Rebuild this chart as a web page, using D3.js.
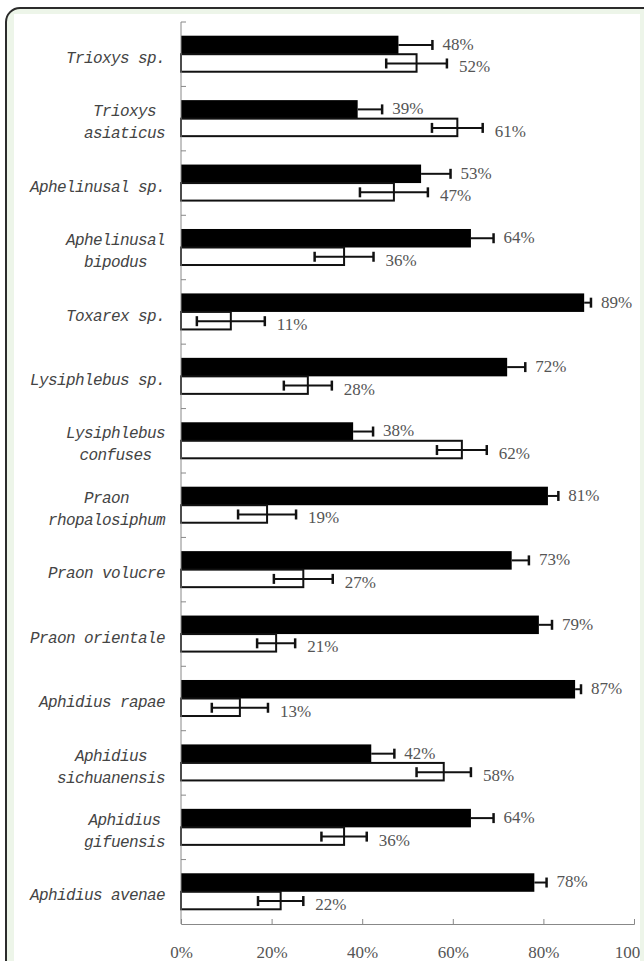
<!DOCTYPE html>
<html>
<head>
<meta charset="utf-8">
<script src="https://cdn.jsdelivr.net/npm/d3@7"></script>
<style>
  html, body { margin: 0; padding: 0; background: #fff; }
  svg { display: block; }
</style>
</head>
<body>
<div id="chart"></div>
<script>
// species, top to bottom (line breaks as in the figure)
const species = [
  ["Trioxys sp."],
  ["Trioxys", "asiaticus"],
  ["Aphelinusal sp."],
  ["Aphelinusal", "bipodus"],
  ["Toxarex sp."],
  ["Lysiphlebus sp."],
  ["Lysiphlebus", "confuses"],
  ["Praon", "rhopalosiphum"],
  ["Praon volucre"],
  ["Praon orientale"],
  ["Aphidius rapae"],
  ["Aphidius", "sichuanensis"],
  ["Aphidius", "gifuensis"],
  ["Aphidius avenae"]
]
const blackVals = [48, 39, 53, 64, 89, 72, 38, 81, 73, 79, 87, 42, 64, 78]
const blackErr  = [7.5, 5.4, 6.5, 5, 1.5, 4, 4.4, 2.3, 3.8, 2.9, 1.3, 5.1, 5, 2.7]
const whiteVals = [52, 61, 47, 36, 11, 28, 62, 19, 27, 21, 13, 58, 36, 22]
const whiteErr  = [6.7, 5.6, 7.5, 6.5, 7.5, 5.3, 5.5, 6.4, 6.5, 4.2, 6.2, 6, 5, 5]
const xTicks = [0, 20, 40, 60, 80, 100]

const W = 644, H = 961

const svg = d3.select("#chart").append("svg")
  .attr("width", W)
  .attr("height", H)

// frame: dark rounded border, pale green margin, white panel
svg.append("rect")
  .attr("x", 6).attr("y", 8)
  .attr("width", 720).attr("height", 1040)
  .attr("rx", 14)
  .attr("fill", "#edf5e9")
  .attr("stroke", "#2b2b2b")
  .attr("stroke-width", 2)
svg.append("rect")
  .attr("x", 14).attr("y", 14)
  .attr("width", 626).attr("height", 1000)
  .attr("fill", "#fff")

// the white panel crops the last tick label, as in the figure
svg.append("clipPath").attr("id", "panel")
  .append("rect").attr("x", 14).attr("y", 14).attr("width", 626).attr("height", 1000)

const g = svg.append("g").attr("clip-path", "url(#panel)")

const rows = species.map((s, i) => ({
  id: i, lines: s,
  b: blackVals[i], be: blackErr[i],
  w: whiteVals[i], we: whiteErr[i]
}))

const x = d3.scaleLinear().domain([0, 100]).range([181, 634])
const y = d3.scaleBand().domain(rows.map(d => d.id)).range([22, 924])
const ySub = d3.scaleBand().domain(["b", "w"]).range([0, y.bandwidth()]).paddingOuter(0.74)

const row = g.selectAll("g.row")
  .data(rows)
  .enter().append("g")
  .attr("class", "row")
  .attr("transform", d => "translate(0," + y(d.id) + ")")

// black bars
row.append("rect")
  .attr("x", x(0))
  .attr("y", ySub("b"))
  .attr("width", d => x(d.b) - x(0))
  .attr("height", ySub.bandwidth())
  .attr("fill", "#000")

// white bars
row.append("rect")
  .attr("x", x(0))
  .attr("y", ySub("w"))
  .attr("width", d => x(d.w) - x(0))
  .attr("height", ySub.bandwidth() - 1)
  .attr("fill", "#fff")
  .attr("stroke", "#111")
  .attr("stroke-width", 2)

const capH = 5
const bMid = ySub("b") + ySub.bandwidth() / 2
const wMid = ySub("w") + ySub.bandwidth() / 2

// error bars on black bars (right side only)
row.append("line")
  .attr("x1", d => x(d.b)).attr("x2", d => x(d.b + d.be))
  .attr("y1", bMid).attr("y2", bMid)
  .attr("stroke", "#111").attr("stroke-width", 2)
row.append("line")
  .attr("x1", d => x(d.b + d.be)).attr("x2", d => x(d.b + d.be))
  .attr("y1", bMid - capH).attr("y2", bMid + capH)
  .attr("stroke", "#111").attr("stroke-width", 2.5)

// error bars on white bars (both sides)
row.append("line")
  .attr("x1", d => x(d.w - d.we)).attr("x2", d => x(d.w + d.we))
  .attr("y1", wMid).attr("y2", wMid)
  .attr("stroke", "#111").attr("stroke-width", 2)
row.selectAll("line.cap")
  .data(d => [d.w - d.we, d.w + d.we])
  .enter().append("line")
  .attr("class", "cap")
  .attr("x1", v => x(v)).attr("x2", v => x(v))
  .attr("y1", wMid - capH).attr("y2", wMid + capH)
  .attr("stroke", "#111").attr("stroke-width", 2.5)

// value labels
row.append("text")
  .attr("x", d => x(d.b + d.be) + 10)
  .attr("y", bMid - 1)
  .attr("dy", "0.35em")
  .attr("font-family", "'Liberation Serif', serif")
  .attr("font-size", 17)
  .attr("fill", "#555")
  .text(d => d.b + "%")
row.append("text")
  .attr("x", d => x(d.w + d.we) + 12)
  .attr("y", wMid + 3)
  .attr("dy", "0.35em")
  .attr("font-family", "'Liberation Serif', serif")
  .attr("font-size", 17)
  .attr("fill", "#555")
  .text(d => d.w + "%")

// species labels: block right-aligned at 165, lines centred inside it
const lineH = 22
row.each(function(d) {
  const t = d3.select(this).append("text")
    .attr("font-family", "'Liberation Mono', monospace")
    .attr("font-style", "italic")
    .attr("font-size", 16)
    .attr("letter-spacing", "-0.6px")
    .attr("fill", "#444")
    .attr("text-anchor", "middle")
  const spans = d.lines.map((l, k) => t.append("tspan")
    .attr("y", y.bandwidth() / 2 + 3 + (k - (d.lines.length - 1) / 2) * lineH)
    .attr("dy", "0.35em")
    .text(l))
  const widest = d3.max(spans, s => s.node().getComputedTextLength())
  spans.forEach(s => s.attr("x", 165 - widest / 2))
})

// y axis: line plus inward ticks at category boundaries
const yEdges = rows.map(d => y(d.id))
g.append("line")
  .attr("x1", x(0)).attr("x2", x(0))
  .attr("y1", 22).attr("y2", 924)
  .attr("stroke", "#888").attr("stroke-width", 1)
g.selectAll("line.ytick")
  .data(yEdges)
  .enter().append("line")
  .attr("class", "ytick")
  .attr("x1", x(0)).attr("x2", x(0) + 5)
  .attr("y1", v => v).attr("y2", v => v)
  .attr("stroke", "#888")

// x axis with ticks pointing up
const xAxis = g.append("g")
  .attr("transform", "translate(0,924)")
  .call(d3.axisBottom(x).tickValues(xTicks).tickSize(-5).tickPadding(22).tickFormat(d => d + "%"))
xAxis.select(".domain").attr("stroke", "#888")
xAxis.selectAll(".tick line").attr("stroke", "#888")
xAxis.selectAll("text")
  .attr("font-family", "'Liberation Serif', serif")
  .attr("font-size", 17)
  .attr("fill", "#555")
</script>
</body>
</html>
